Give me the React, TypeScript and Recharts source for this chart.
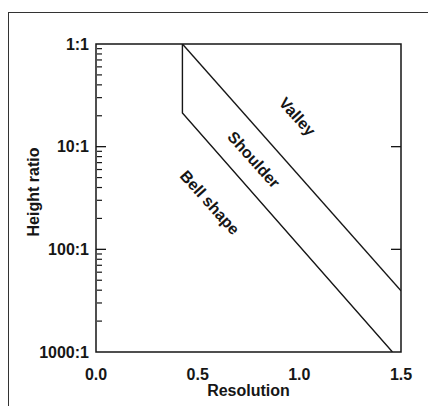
import {
  LineChart,
  Line,
  XAxis,
  YAxis,
  ReferenceArea,
  ReferenceDot,
} from "recharts";

// axis ticks
const resolutionTicks = [0, 0.5, 1.0, 1.5];
const innerResolutionTicks = [0.5, 1.0];
const ratioTicks = [1, 10, 100, 1000];
const innerRatioTicks = [10, 100];
const minorRatioTicks = [
  1.11, 1.25, 1.43, 1.67, 2, 2.5, 3.33, 5,
  11.1, 12.5, 14.3, 16.7, 20, 25, 33.3, 50,
  111, 125, 143, 167, 200, 250, 333, 500,
];

// region boundaries
const bellShoulderEdge = [
  { res: 0.425, ratio: 1 },
  { res: 0.425, ratio: 4.7 },
  { res: 1.458, ratio: 1000 },
];
const shoulderValleyEdge = [
  { res: 0.425, ratio: 1 },
  { res: 1.5, ratio: 254 },
];

const regionNames = ["Valley", "Shoulder", "Bell shape"];
const regionRes = [0.99, 0.776, 0.56];
const regionRatio = [5.1, 13.4, 35];

const ink = "#161616";
const font = "'Liberation Sans', Arial, Helvetica, sans-serif";

const noTick = () => <g />;
const fmtRatio = (v: number) => `${v}:1`;

function RegionLabel(props: any) {
  const { viewBox, value } = props;
  const x = viewBox.x + (viewBox.width || 0) / 2;
  const y = viewBox.y + (viewBox.height || 0) / 2;
  return (
    <text
      x={x}
      y={y}
      transform={`rotate(48, ${x}, ${y})`}
      textAnchor="middle"
      dominantBaseline="central"
      fontSize={16}
      fontWeight="bold"
      fontFamily={font}
      fill={ink}
    >
      {value}
    </text>
  );
}

// y axis title, a bit above the axis middle like the original
function RatioTitle(props: any) {
  const { viewBox } = props;
  const x = viewBox.x + 25;
  const y = viewBox.y + viewBox.height / 2 - 6;
  return (
    <text
      x={x}
      y={y}
      transform={`rotate(-90, ${x}, ${y})`}
      textAnchor="middle"
      dominantBaseline="central"
      fontSize={16}
      fontWeight="bold"
      fontFamily={font}
      fill={ink}
    >
      Height ratio
    </text>
  );
}

function App() {
  const logAxis = {
    type: "number" as const,
    scale: "log" as const,
    domain: [1, 1000],
    reversed: true,
    allowDataOverflow: true,
  };
  const resAxis = {
    type: "number" as const,
    domain: [0, 1.5],
    allowDataOverflow: true,
  };
  const textStyle = { fill: ink, fontSize: 16, fontWeight: "bold", fontFamily: font };
  return (
    <div
      style={{
        position: "relative",
        width: 428,
        height: 398,
        overflow: "hidden",
        fontFamily: font,
      }}
    >
      <div
        style={{
          position: "absolute",
          left: 0,
          top: 4,
          width: 460,
          height: 420,
          borderTop: "1.5px solid #333",
          borderLeft: "1.5px solid #333",
        }}
      />
      <LineChart
        width={428}
        height={398}
        margin={{ top: 36, right: 35, bottom: 10, left: 0 }}
      >
        <XAxis
          xAxisId="x"
          dataKey="res"
          {...resAxis}
          ticks={resolutionTicks}
          interval={0}
          tickFormatter={(v: number) => v.toFixed(1)}
          tickLine={false}
          axisLine={false}
          tickSize={0}
          tickMargin={17}
          height={44}
          tick={textStyle}
          label={{
            value: "Resolution",
            position: "insideBottom",
            offset: 0,
            ...textStyle,
          }}
        />
        <XAxis
          xAxisId="bottomTicks"
          {...resAxis}
          orientation="bottom"
          mirror
          height={1}
          ticks={innerResolutionTicks}
          interval={0}
          tick={noTick}
          axisLine={false}
          tickSize={9}
          tickLine={{ stroke: ink, strokeWidth: 1.3 }}
        />
        <XAxis
          xAxisId="topTicks"
          {...resAxis}
          orientation="top"
          mirror
          height={1}
          ticks={innerResolutionTicks}
          interval={0}
          tick={noTick}
          axisLine={false}
          tickSize={9}
          tickLine={{ stroke: ink, strokeWidth: 1.3 }}
        />
        <YAxis
          yAxisId="y"
          dataKey="ratio"
          {...logAxis}
          ticks={ratioTicks}
          interval={0}
          tickFormatter={fmtRatio}
          tickLine={false}
          axisLine={false}
          tickSize={0}
          tickMargin={7}
          width={88}
          tick={textStyle}
          label={{ value: "Height ratio", content: RatioTitle }}
        />
        <YAxis
          yAxisId="leftMinor"
          {...logAxis}
          orientation="left"
          mirror
          width={1}
          ticks={minorRatioTicks}
          interval={0}
          tick={noTick}
          axisLine={false}
          tickSize={5}
          tickLine={{ stroke: ink, strokeWidth: 1.2 }}
        />
        <YAxis
          yAxisId="leftMajor"
          {...logAxis}
          orientation="left"
          mirror
          width={1}
          ticks={innerRatioTicks}
          interval={0}
          tick={noTick}
          axisLine={false}
          tickSize={10}
          tickLine={{ stroke: ink, strokeWidth: 1.3 }}
        />
        <YAxis
          yAxisId="rightMajor"
          {...logAxis}
          orientation="right"
          mirror
          width={1}
          ticks={innerRatioTicks}
          interval={0}
          tick={noTick}
          axisLine={false}
          tickSize={10}
          tickLine={{ stroke: ink, strokeWidth: 1.3 }}
        />
        <ReferenceArea
          xAxisId="x"
          yAxisId="y"
          x1={0}
          x2={1.5}
          y1={1}
          y2={1000}
          fill="none"
          fillOpacity={0}
          stroke={ink}
          strokeWidth={1.5}
        />
        <Line
          xAxisId="x"
          yAxisId="y"
          data={bellShoulderEdge}
          dataKey="ratio"
          type="linear"
          stroke={ink}
          strokeWidth={1.4}
          dot={false}
          isAnimationActive={false}
        />
        <Line
          xAxisId="x"
          yAxisId="y"
          data={shoulderValleyEdge}
          dataKey="ratio"
          type="linear"
          stroke={ink}
          strokeWidth={1.4}
          dot={false}
          isAnimationActive={false}
        />
        {regionNames.map((name, i) => (
          <ReferenceDot
            key={name}
            xAxisId="x"
            yAxisId="y"
            x={regionRes[i]}
            y={regionRatio[i]}
            r={0}
            stroke="none"
            fill="none"
            label={{ value: name, content: RegionLabel }}
          />
        ))}
      </LineChart>
    </div>
  );
}

export default App;
